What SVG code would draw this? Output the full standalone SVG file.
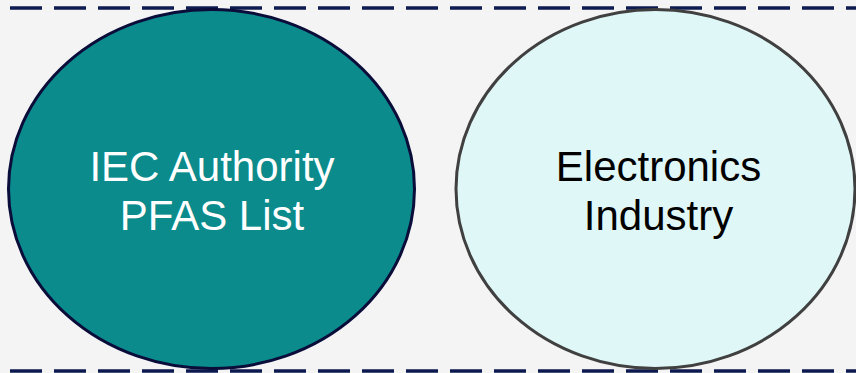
<svg xmlns="http://www.w3.org/2000/svg" width="856" height="373" viewBox="0 0 856 373">
<style>
.dash{stroke:#0d1a4f;stroke-width:3.5;stroke-dasharray:32 12;fill:none}
.lbl{font-family:"Liberation Sans",Arial,sans-serif;font-size:42px;text-anchor:middle}
</style>
<rect x="0" y="0" width="856" height="373" fill="#f4f4f4"/>
<g id="connectors">
<line class="dash" x1="10" y1="8" x2="856" y2="8"/>
<line class="dash" x1="10" y1="371" x2="856" y2="371"/>
</g>
<g id="iec">
<ellipse cx="211.5" cy="189" rx="203" ry="179.5" fill="#0b8b8b" stroke="#0a0c3a" stroke-width="3"/>
<text class="lbl" fill="#ffffff" x="212" y="180.5">IEC Authority</text>
<text class="lbl" fill="#ffffff" x="212" y="230">PFAS List</text>
</g>
<g id="electronics">
<ellipse cx="655.5" cy="189" rx="199.5" ry="179.5" fill="#e0f7f8" stroke="#404040" stroke-width="3"/>
<text class="lbl" fill="#000000" x="658.5" y="180.5">Electronics</text>
<text class="lbl" fill="#000000" x="658.5" y="230">Industry</text>
</g>
</svg>
